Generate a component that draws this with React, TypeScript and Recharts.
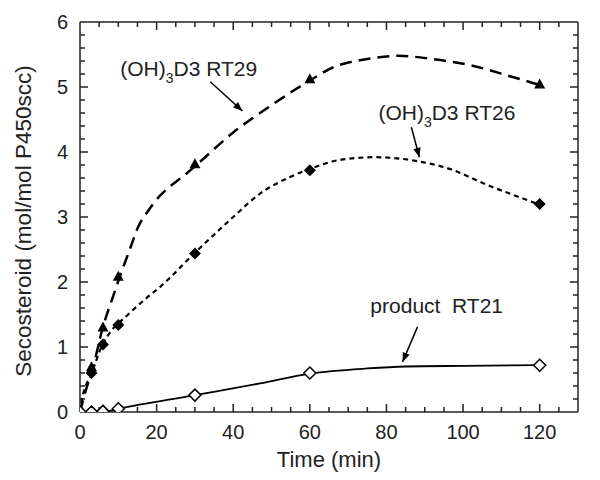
import React from "react";
import {
  ComposedChart,
  Line,
  Scatter,
  XAxis,
  YAxis,
  ReferenceLine,
  ReferenceDot,
} from "recharts";

const FONT = "'Liberation Sans', Arial, Helvetica, sans-serif";

// measured points (markers)
const rt29Points = [
  { x: 0, y: 0 },
  { x: 3, y: 0.69 },
  { x: 6, y: 1.3 },
  { x: 10, y: 2.08 },
  { x: 30, y: 3.81 },
  { x: 60, y: 5.12 },
  { x: 120, y: 5.04 },
];
const rt26Points = [
  { x: 0, y: 0 },
  { x: 3, y: 0.6 },
  { x: 6, y: 1.04 },
  { x: 10, y: 1.34 },
  { x: 30, y: 2.44 },
  { x: 60, y: 3.72 },
  { x: 120, y: 3.2 },
];
const rt21Points = [
  { x: 0, y: 0 },
  { x: 3, y: 0 },
  { x: 6, y: 0.01 },
  { x: 10, y: 0.05 },
  { x: 30, y: 0.26 },
  { x: 60, y: 0.6 },
  { x: 120, y: 0.72 },
];

// fitted curves
const rt29Curve = [
  { x: 0, y: 0 },
  { x: 1.3, y: 0.29 },
  { x: 3.4, y: 0.69 },
  { x: 6, y: 1.31 },
  { x: 8.6, y: 1.77 },
  { x: 10.5, y: 2.1 },
  { x: 13, y: 2.5 },
  { x: 15.2, y: 2.85 },
  { x: 17.5, y: 3.07 },
  { x: 20, y: 3.27 },
  { x: 23.5, y: 3.47 },
  { x: 27, y: 3.63 },
  { x: 30, y: 3.78 },
  { x: 40, y: 4.3 },
  { x: 50, y: 4.72 },
  { x: 60, y: 5.1 },
  { x: 66, y: 5.3 },
  { x: 75, y: 5.43 },
  { x: 83, y: 5.48 },
  { x: 92, y: 5.43 },
  { x: 103, y: 5.32 },
  { x: 112, y: 5.17 },
  { x: 120, y: 5.03 },
];
const rt26Curve = [
  { x: 0, y: 0 },
  { x: 0.5, y: 0.19 },
  { x: 3.1, y: 0.6 },
  { x: 5.8, y: 1.03 },
  { x: 7.8, y: 1.22 },
  { x: 12, y: 1.47 },
  { x: 17.5, y: 1.76 },
  { x: 21, y: 1.93 },
  { x: 30, y: 2.45 },
  { x: 40, y: 3.0 },
  { x: 47, y: 3.36 },
  { x: 55, y: 3.62 },
  { x: 60, y: 3.74 },
  { x: 68, y: 3.88 },
  { x: 77, y: 3.92 },
  { x: 88, y: 3.86 },
  { x: 97, y: 3.73 },
  { x: 106, y: 3.5 },
  { x: 114, y: 3.32 },
  { x: 120, y: 3.19 },
];
const rt21Curve = [
  { x: 0, y: 0 },
  { x: 6, y: 0 },
  { x: 10, y: 0.05 },
  { x: 30, y: 0.26 },
  { x: 47, y: 0.44 },
  { x: 60, y: 0.59 },
  { x: 75, y: 0.67 },
  { x: 85, y: 0.7 },
  { x: 100, y: 0.71 },
  { x: 120, y: 0.72 },
];

const xTicks = [
  5, 10, 15, 20, 25, 30, 35, 40, 45, 50, 55, 60, 65, 70, 75, 80, 85, 90, 95,
  100, 105, 110, 115, 120, 125,
];
const xMajor = [0, 20, 40, 60, 80, 100, 120];
const yTicks = [
  0.2, 0.4, 0.6, 0.8, 1, 1.2, 1.4, 1.6, 1.8, 2, 2.2, 2.4, 2.6, 2.8, 3, 3.2,
  3.4, 3.6, 3.8, 4, 4.2, 4.4, 4.6, 4.8, 5, 5.2, 5.4, 5.6, 5.8,
];
const yMajor = [0, 1, 2, 3, 4, 5, 6];

// annotation text anchors and arrows (data coords)
const labels = [
  { x: 10.5, y: 5.17, pre: "(OH)", sub: "3", post: "D3 RT29" },
  { x: 77.9, y: 4.5, pre: "(OH)", sub: "3", post: "D3 RT26" },
  { x: 75.8, y: 1.53, pre: "product  RT21", sub: "", post: "" },
];
const arrows = [
  { x1: 34, y1: 5.08, x2: 42.4, y2: 4.63 },
  { x1: 86.5, y1: 4.38, x2: 88.6, y2: 3.92 },
  { x1: 88.1, y1: 1.31, x2: 84.2, y2: 0.77 },
];

const AXIS = "#222";
const MAJ = 8;
const MIN = 5;

function BottomLabel({ x, y, payload }: any) {
  return (
    <text x={x} y={y + 27} textAnchor="middle" fontSize={20} fontFamily={FONT} fill="#222">
      {payload.value}
    </text>
  );
}

function LeftLabel({ x, y, payload }: any) {
  return (
    <text x={x - 12} y={y + 7} textAnchor="end" fontSize={20} fontFamily={FONT} fill="#222">
      {payload.value}
    </text>
  );
}

// inward tick marks on bottom + top edges
const xTickShape = (major: boolean) => (p: any) => {
  const top = Math.min(p.y1, p.y2);
  const bot = Math.max(p.y1, p.y2);
  const len = major ? MAJ : MIN;
  return (
    <g>
      <line x1={p.x1} y1={bot} x2={p.x1} y2={bot - len} stroke={AXIS} strokeWidth={1.5} />
      <line x1={p.x1} y1={top} x2={p.x1} y2={top + len} stroke={AXIS} strokeWidth={1.5} />
    </g>
  );
};

// inward tick marks on left + right edges
const yTickShape = (major: boolean) => (p: any) => {
  const left = Math.min(p.x1, p.x2);
  const right = Math.max(p.x1, p.x2);
  const len = major ? MAJ : MIN;
  return (
    <g>
      <line x1={left} y1={p.y1} x2={left + len} y2={p.y1} stroke={AXIS} strokeWidth={1.5} />
      <line x1={right} y1={p.y1} x2={right - len} y2={p.y1} stroke={AXIS} strokeWidth={1.5} />
    </g>
  );
};

const triangle = (p: any) => (
  <polygon
    points={`${p.cx},${p.cy - 6} ${p.cx - 5.5},${p.cy + 4} ${p.cx + 5.5},${p.cy + 4}`}
    fill="#000"
  />
);
const diamond = (p: any) => (
  <polygon
    points={`${p.cx},${p.cy - 6} ${p.cx + 6},${p.cy} ${p.cx},${p.cy + 6} ${p.cx - 6},${p.cy}`}
    fill="#000"
  />
);
const openDiamond = (p: any) => (
  <polygon
    points={`${p.cx},${p.cy - 6} ${p.cx + 6},${p.cy} ${p.cx},${p.cy + 6} ${p.cx - 6},${p.cy}`}
    fill="#fff"
    stroke="#000"
    strokeWidth={1.5}
  />
);

const arrowShape = (p: any) => {
  const { x1, y1, x2, y2 } = p;
  const a = Math.atan2(y2 - y1, x2 - x1);
  const L = 10;
  const w = 0.38;
  const h1 = `${x2 - L * Math.cos(a - w)},${y2 - L * Math.sin(a - w)}`;
  const h2 = `${x2 - L * Math.cos(a + w)},${y2 - L * Math.sin(a + w)}`;
  return (
    <g>
      <line x1={x1} y1={y1} x2={x2} y2={y2} stroke="#000" strokeWidth={1.5} />
      <polygon points={`${x2},${y2} ${h1} ${h2}`} fill="#000" />
    </g>
  );
};

function labelShape(l: (typeof labels)[number]) {
  return (p: any) => (
    <text x={p.cx} y={p.cy} fontSize={21} fontFamily={FONT} fill="#222" style={{ whiteSpace: "pre" }}>
      <tspan>{l.pre}</tspan>
      {l.sub && (
        <tspan fontSize={14} dy={7}>
          {l.sub}
        </tspan>
      )}
      {l.post && <tspan dy={-7}>{l.post}</tspan>}
    </text>
  );
}

export default function App() {
  return (
    <div style={{ position: "absolute", left: 0, top: 0, background: "#fff" }}>
      <ComposedChart width={600} height={480} margin={{ top: 22, right: 22, left: 0, bottom: 0 }}>
        <XAxis
          dataKey="x"
          type="number"
          domain={[0, 130]}
          ticks={xMajor}
          interval={0}
          allowDataOverflow
          height={68}
          tickSize={0}
          tickMargin={0}
          tickLine={false}
          tick={<BottomLabel />}
          axisLine={{ stroke: AXIS, strokeWidth: 1.5 }}
          label={{
            content: ({ viewBox }: any) => (
              <text
                x={viewBox.x + viewBox.width / 2}
                y={viewBox.y + 55}
                textAnchor="middle"
                fontSize={22}
                fontFamily={FONT}
                fill="#222"
              >
                Time (min)
              </text>
            ),
          }}
        />
        <YAxis
          type="number"
          domain={[0, 6]}
          ticks={yMajor}
          interval={0}
          allowDataOverflow
          width={80}
          tickSize={0}
          tickMargin={0}
          tickLine={false}
          tick={<LeftLabel />}
          axisLine={{ stroke: AXIS, strokeWidth: 1.5 }}
          label={{
            content: ({ viewBox }: any) => {
              const cx = viewBox.x + 23;
              const cy = viewBox.y + viewBox.height / 2 + 4;
              return (
                <text
                  x={cx}
                  y={cy}
                  transform={`rotate(-90 ${cx} ${cy})`}
                  textAnchor="middle"
                  dominantBaseline="central"
                  fontSize={22.5}
                  fontFamily={FONT}
                  fill="#222"
                >
                  Secosteroid (mol/mol P450scc)
                </text>
              );
            },
          }}
        />

        {/* frame: top and right edges */}
        <ReferenceLine y={6} stroke={AXIS} strokeWidth={1.5} />
        <ReferenceLine x={130} stroke={AXIS} strokeWidth={1.5} />

        {xTicks.map((v) => (
          <ReferenceLine key={"xt" + v} x={v} shape={xTickShape(xMajor.includes(v))} />
        ))}
        {yTicks.map((v) => (
          <ReferenceLine key={"yt" + v} y={v} shape={yTickShape(yMajor.includes(v))} />
        ))}

        <Line
          data={rt29Curve}
          dataKey="y"
          type="monotone"
          stroke="#000"
          strokeWidth={2.5}
          strokeDasharray="12 7"
          dot={false}
          activeDot={false}
          isAnimationActive={false}
        />
        <Line
          data={rt26Curve}
          dataKey="y"
          type="monotone"
          stroke="#000"
          strokeWidth={2.2}
          strokeDasharray="5 4"
          dot={false}
          activeDot={false}
          isAnimationActive={false}
        />
        <Line
          data={rt21Curve}
          dataKey="y"
          type="monotone"
          stroke="#000"
          strokeWidth={1.8}
          dot={false}
          activeDot={false}
          isAnimationActive={false}
        />

        <Scatter data={rt29Points} dataKey="y" shape={triangle} isAnimationActive={false} />
        <Scatter data={rt26Points} dataKey="y" shape={diamond} isAnimationActive={false} />
        <Scatter data={rt21Points} dataKey="y" shape={openDiamond} isAnimationActive={false} />

        {arrows.map((a, i) => (
          <ReferenceLine
            key={"a" + i}
            segment={[
              { x: a.x1, y: a.y1 },
              { x: a.x2, y: a.y2 },
            ]}
            shape={arrowShape}
          />
        ))}
        {labels.map((l, i) => (
          <ReferenceDot key={"l" + i} x={l.x} y={l.y} r={1} shape={labelShape(l)} />
        ))}
      </ComposedChart>
    </div>
  );
}
